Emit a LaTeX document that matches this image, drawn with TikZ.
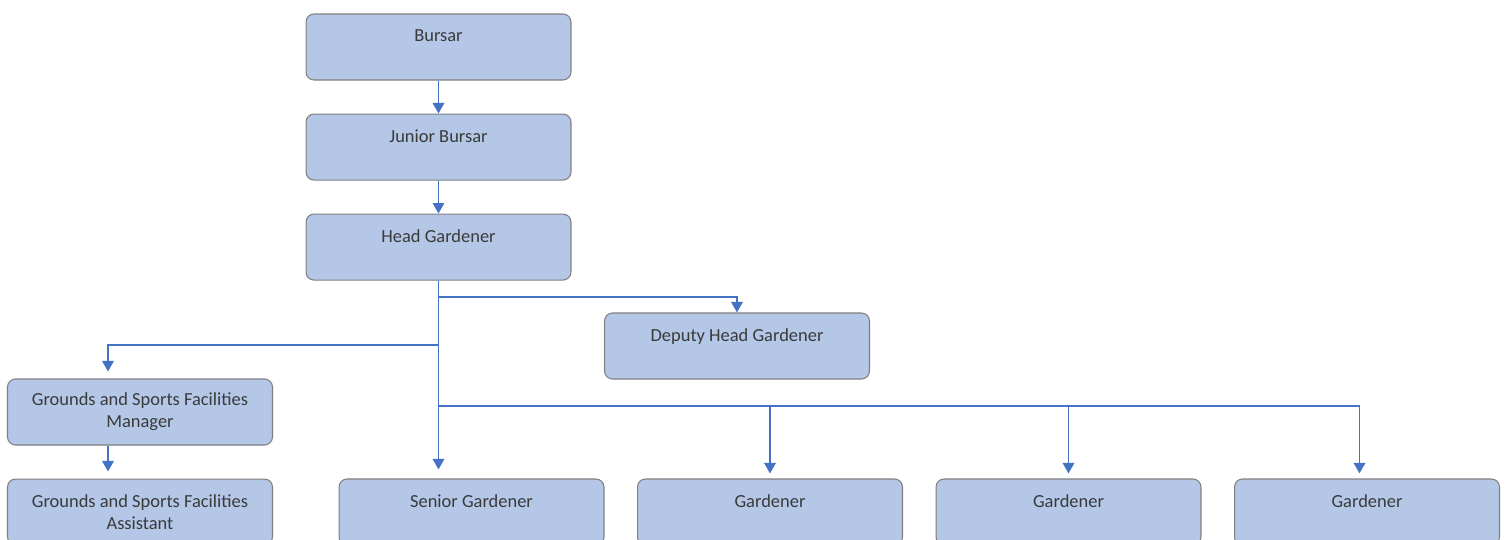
\documentclass[tikz,border=0pt]{standalone}
\usepackage{fontspec}
\setmainfont{Carlito}
\usepackage{tikz}
\usepackage{xcolor}
\usetikzlibrary{arrows.meta,positioning}

\definecolor{boxfill}{HTML}{B4C7E7}
\definecolor{boxline}{HTML}{7F7F7F}
\definecolor{linkblue}{HTML}{4472C4}
\definecolor{textgray}{HTML}{3A3A3A}

\begin{document}
\begin{tikzpicture}[
    x=0.02cm, y=-0.02cm,
    node distance=0.66cm,
    role/.style={draw=boxline, fill=boxfill, line width=0.6pt, rounded corners=0.16cm,
                 align=center, text=textgray, font=\fontsize{10.5}{12.5}\selectfont,
                 minimum width=5.3cm, minimum height=1.32cm, inner sep=0pt},
    link/.style={-{Triangle[width=6.5pt,length=6pt]}, draw=linkblue, line width=1.1pt}
  ]
    \useasboundingbox (0,0) rectangle (1507,539);
    \clip (0,0) rectangle (1507,539);

    \node[role] (bursar) at (438.5,47) {Bursar\\~};
    \node[role, below=of bursar] (jb) {Junior Bursar\\~};
    \node[role, below=of jb] (hg) {Head Gardener\\~};
    \node[role] (dep) at (737,346) {Deputy Head Gardener\\~};
    \node[role] (mgr) at (140,412) {Grounds and Sports Facilities\\Manager};
    \node[role, below=0.66cm of mgr] (asst) {Grounds and Sports Facilities\\Assistant};
    \node[role] (sg) at (471.5,512) {Senior Gardener\\~};
    \node[role, right=0.65cm of sg] (g1) {Gardener\\~};
    \node[role, right=0.65cm of g1] (g2) {Gardener\\~};
    \node[role, right=0.65cm of g2] (g3) {Gardener\\~};

    \draw[link] (bursar) -- (jb);
    \draw[link] (jb) -- (hg);
    \draw[link] (hg.south) -- ++(0,16) -| (dep.north);
    \draw[link, shorten >=0.14cm] (hg.south) -- ++(0,64) -| ([xshift=-0.64cm]mgr.north);
    \draw[link, shorten >=0.14cm] ([xshift=-0.64cm]mgr.south) -- ([xshift=-0.64cm]asst.north);
    \draw[link, shorten >=0.18cm] (hg.south) -- (hg.south |- sg.north);
    \draw[link, shorten >=0.1cm] (hg.south) -- ++(0,125) -| (g1.north);
    \draw[link, shorten >=0.1cm] (hg.south) -- ++(0,125) -| (g2.north);
    \draw[link, shorten >=0.1cm] (hg.south) -- ++(0,125) -| ([xshift=-0.15cm]g3.north);
  \end{tikzpicture}
\end{document}
